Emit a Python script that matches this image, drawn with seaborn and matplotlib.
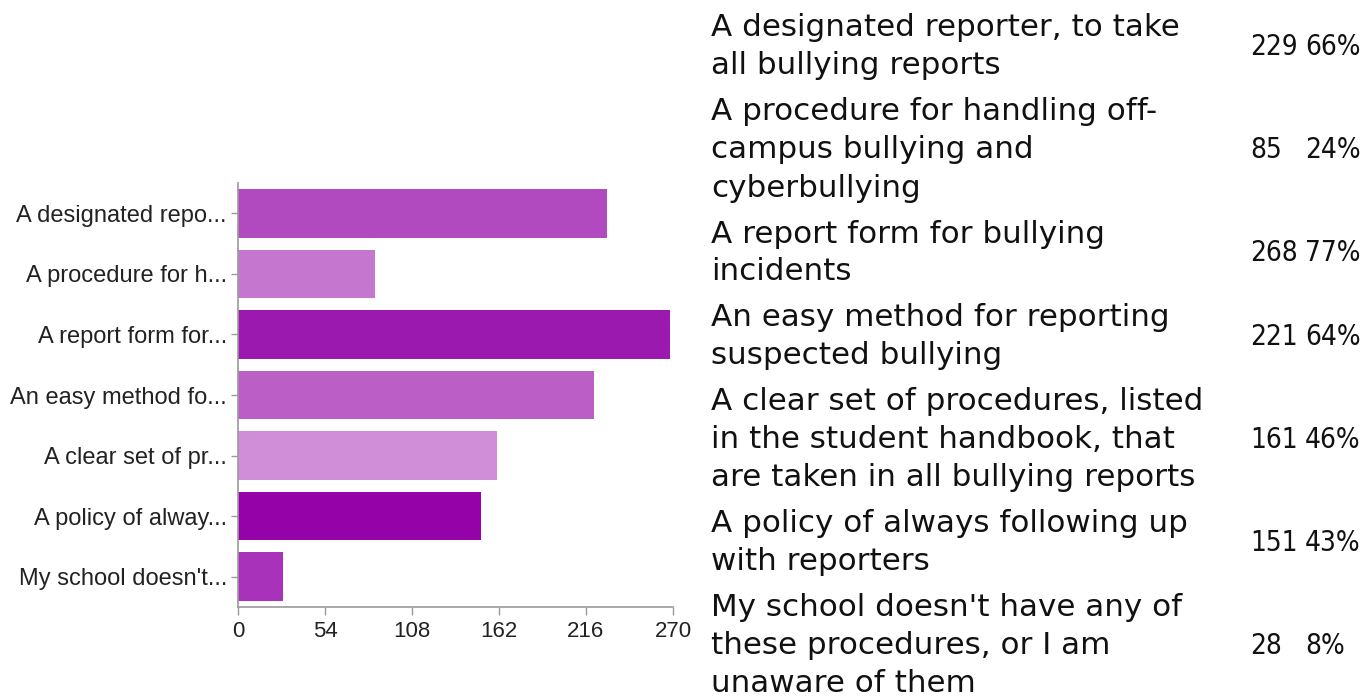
import matplotlib
matplotlib.use("Agg")
import matplotlib.pyplot as plt
import seaborn as sns
import pandas as pd

short_labels = ["A designated repo...", "A procedure for h...", "A report form for...",
                "An easy method fo...", "A clear set of pr...", "A policy of alway...",
                "My school doesn't..."]
full_labels = ["A designated reporter, to take\nall bullying reports",
               "A procedure for handling off-\ncampus bullying and\ncyberbullying",
               "A report form for bullying\nincidents",
               "An easy method for reporting\nsuspected bullying",
               "A clear set of procedures, listed\nin the student handbook, that\nare taken in all bullying reports",
               "A policy of always following up\nwith reporters",
               "My school doesn't have any of\nthese procedures, or I am\nunaware of them"]
counts = [229, 85, 268, 221, 161, 151, 28]
percents = ["66%", "24%", "77%", "64%", "46%", "43%", "8%"]
bar_colors = ["#B04ABE", "#C577D0", "#9C19B0", "#BB5FC7", "#D08ED8", "#9502A8", "#A932BA"]
x_ticks = [0, 54, 108, 162, 216, 270]

sns.set_theme(style="white")
plt.rcParams['font.family'] = ['Liberation Sans', 'DejaVu Sans']

W, H = 1369, 696
fig = plt.figure(figsize=(W / 100, H / 100), dpi=100)
ax = fig.add_axes([238 / W, 1 - 607 / H, (673 - 238) / W, (607 - 183) / H])

df = pd.DataFrame({"label": short_labels, "count": counts})
sns.barplot(data=df, x="count", y="label", hue="label", palette=bar_colors,
            legend=False, width=0.8, ax=ax, saturation=1, edgecolor="none")

ax.set_xlim(0, 270)
ax.set_ylim(6.5, -0.5)
ax.set_xticks(x_ticks)
ax.set_xlabel("")
ax.set_ylabel("")
for s in ["top", "right"]:
    ax.spines[s].set_visible(False)
for s in ["left", "bottom"]:
    ax.spines[s].set_color("#9a9a9a")
    ax.spines[s].set_linewidth(1.2)
ax.tick_params(axis="x", direction="out", length=6, width=1, color="#9a9a9a",
               labelsize=16, labelcolor="#222222", pad=4, bottom=True)
ax.tick_params(axis="y", direction="out", length=5, width=1, color="#9a9a9a",
               labelsize=17, labelcolor="#222222", pad=3, left=True)

# Right-hand table
fs = 22.3
nfs = 20
line_h = 38
gap = 8
y = 28
for lab, c, p in zip(full_labels, counts, percents):
    lines = lab.split("\n")
    for i, ln in enumerate(lines):
        fig.text(711 / W, 1 - (y + i * line_h) / H, ln, fontsize=fs,
                 family="DejaVu Sans", va="center", ha="left", color="#111111")
    yc = y + (len(lines) - 1) * line_h / 2
    fig.text(1250 / W, 1 - yc / H, str(c), fontsize=nfs, family="DejaVu Sans",
             fontstretch="condensed", va="center", ha="left", color="#111111")
    fig.text(1305 / W, 1 - yc / H, p, fontsize=nfs, family="DejaVu Sans",
             fontstretch="condensed", va="center", ha="left", color="#111111")
    y += (len(lines) - 1) * line_h + line_h + gap

fig.savefig("out.png", dpi=100)
